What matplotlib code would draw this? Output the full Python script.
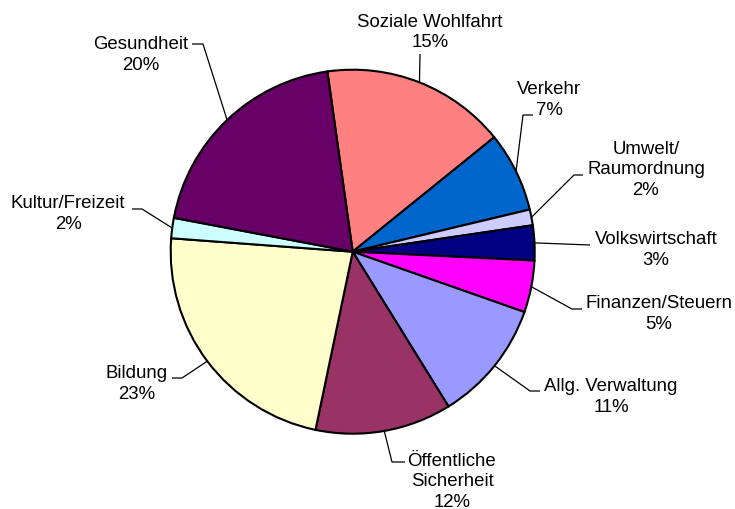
import numpy as np
import matplotlib.pyplot as plt

plt.rcParams['font.family'] = ['Liberation Sans', 'DejaVu Sans']

# slices clockwise, starting just left of 12 o'clock
categories = ["Soziale Wohlfahrt", "Verkehr", "Umwelt/\nRaumordnung", "Volkswirtschaft",
              "Finanzen/Steuern", "Allg. Verwaltung", "Öffentliche\nSicherheit",
              "Bildung", "Kultur/Freizeit", "Gesundheit"]
shares = [16.4, 7.1, 1.4, 3.1, 4.6, 10.8, 12.1, 22.9, 1.8, 19.8]
pct_labels = ["15%", "7%", "2%", "3%", "5%", "11%", "12%", "23%", "2%", "20%"]
colors = ["#FF8080", "#0066CC", "#CCCCFF", "#000080", "#FF00FF",
          "#9999FF", "#993366", "#FFFFCC", "#CCFFFF", "#660066"]

W, H = 735, 510
# label layout in pixel coords (y down): text centre, leader elbow, leader end
text_pos = [(430, 32.5), (549, 100), (646, 170), (656, 250), (659, 314),
            (611, 397), (452, 482), (137, 384), (68, 214), (141, 55)]
elbows = [(420, 55), (523, 116), (574, 176), (590, 246), (572, 310),
          (530, 392), (392, 463), (182, 379), (142, 210), (203, 45)]
ends = [(420, 55), (533, 116), (583, 176), (590, 246), (582, 310),
        (540, 392), (405, 463), (172, 379), (132, 210), (192, 45)]

fig = plt.figure(figsize=(7.35, 5.1), dpi=100)
ax = fig.add_axes([0, 0, 1, 1])

cx, cy, r = 352.7, H - 252.7, 182
wedges, _ = ax.pie(shares, colors=colors, startangle=98, counterclock=False,
                   center=(cx, cy), radius=r,
                   wedgeprops=dict(edgecolor='black', linewidth=1.5))

for w, name, pct, tp, el, en in zip(wedges, categories, pct_labels, text_pos, elbows, ends):
    mid = np.deg2rad((w.theta1 + w.theta2) / 2)
    ex, ey = cx + r * np.cos(mid), cy + r * np.sin(mid)
    ax.plot([ex, el[0], en[0]], [ey, H - el[1], H - en[1]], color='black', lw=0.9,
            solid_capstyle='butt')
    ax.text(tp[0], H - tp[1], name + "\n" + pct, ha='center', va='center',
            fontsize=13.4, linespacing=1.28)

ax.set_xlim(0, W)
ax.set_ylim(0, H)
ax.set_aspect('equal')
ax.axis('off')

fig.savefig('out.png', dpi=100, facecolor='white')
